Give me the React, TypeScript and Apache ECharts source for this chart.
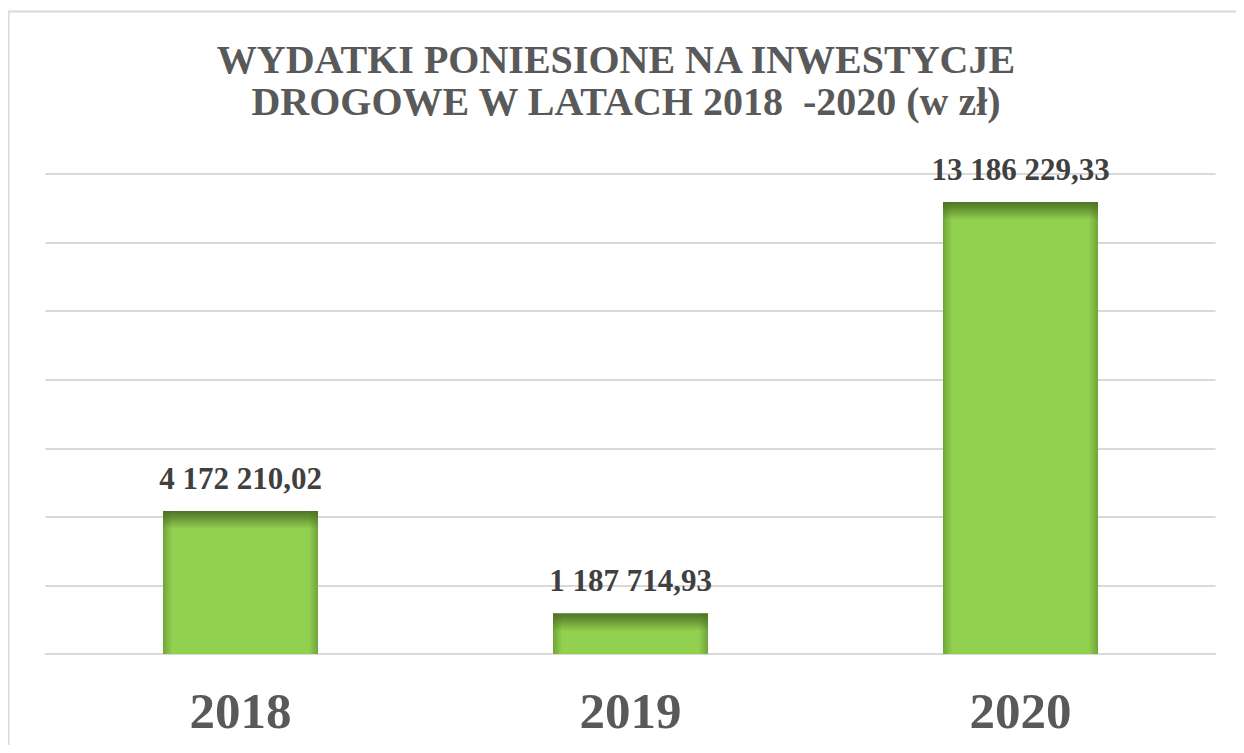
import React, { useEffect, useRef } from "react";
import * as echarts from "echarts";

const categories = ["2018", "2019", "2020"];
const values = [4172210.02, 1187714.93, 13186229.33];
const titleLines = ["WYDATKI PONIESIONE NA INWESTYCJE", "DROGOWE W LATACH 2018  -2020 (w zł)"];
const yMax = 14000000;
const yInterval = 2000000;

const FONT = "Liberation Serif";
const TITLE_FONT = "Times New Roman, Liberation Serif, serif";

function fmt(v: number): string {
  const [i, d] = v.toFixed(2).split(".");
  return i.replace(/\B(?=(\d{3})+(?!\d))/g, " ") + "," + d;
}

export default function App() {
  const ref = useRef<HTMLDivElement>(null);
  useEffect(() => {
    if (!ref.current) return;
    const chart = echarts.init(ref.current, undefined, { renderer: "svg" });
    const plotH = 480;
    const baseData = values.map((v) => {
      const h = (v / yMax) * plotH;
      const f = (px: number) => Math.min(0.99, px / h);
      return {
        value: v,
        itemStyle: {
          color: {
            type: "linear",
            x: 0,
            y: 0,
            x2: 0,
            y2: 1,
            colorStops: [
              { offset: 0, color: "#4f7428" },
              { offset: f(5), color: "#5f8a30" },
              { offset: f(18), color: "#92d050" },
              { offset: 1, color: "#92d050" },
            ],
          },
        },
      };
    });
    const titleCenters = [608, 618];
    chart.setOption({
      animation: false,
      title: titleLines.map((t, i) => ({
        text: t,
        left: titleCenters[i],
        top: 31 + i * 42,
        padding: 0,
        textAlign: "center",
        textStyle: {
          color: "#595959",
          fontFamily: TITLE_FONT,
          fontSize: 40,
          fontWeight: "bold",
        },
      })),
      graphic: [
        {
          type: "rect",
          shape: { x: 0.5, y: 3.5, width: 1300, height: 900 },
          style: { fill: "none", stroke: "#d9d9d9", lineWidth: 2 },
          silent: true,
        },
      ],
      grid: { left: 37.5, right: 20.5, top: 166, bottom: 91, containLabel: false },
      xAxis: {
        type: "category",
        data: categories,
        axisTick: { show: false },
        axisLine: { show: true, lineStyle: { color: "#d9d9d9", width: 2 } },
        axisLabel: {
          margin: 31,
          fontFamily: FONT,
          fontWeight: "bold",
          fontSize: 51,
          color: "#595959",
        },
      },
      yAxis: {
        type: "value",
        min: 0,
        max: yMax,
        interval: yInterval,
        axisLabel: { show: false },
        axisLine: { show: false },
        axisTick: { show: false },
        splitLine: { lineStyle: { color: "#d9d9d9", width: 2 } },
      },
      series: [
        {
          type: "bar",
          data: baseData,
          barWidth: 155,
          barGap: "-100%",
          label: {
            show: true,
            position: "top",
            distance: 17,
            formatter: (p: any) => fmt(p.value),
            fontFamily: FONT,
            fontWeight: "bold",
            fontSize: 31,
            color: "#404040",
          },
          z: 2,
        },
        {
          type: "bar",
          data: values,
          barWidth: 155,
          barGap: "-100%",
          silent: true,
          itemStyle: {
            color: {
              type: "linear",
              x: 0,
              y: 0,
              x2: 1,
              y2: 0,
              colorStops: [
                { offset: 0, color: "rgba(70,110,30,0.45)" },
                { offset: 0.06, color: "rgba(70,110,30,0)" },
                { offset: 0.94, color: "rgba(70,110,30,0)" },
                { offset: 1, color: "rgba(70,110,30,0.45)" },
              ],
            },
          },
          label: { show: false },
          z: 3,
        },
      ],
    });
    return () => chart.dispose();
  }, []);
  return <div ref={ref} style={{ width: 1228, height: 737 }} />;
}
